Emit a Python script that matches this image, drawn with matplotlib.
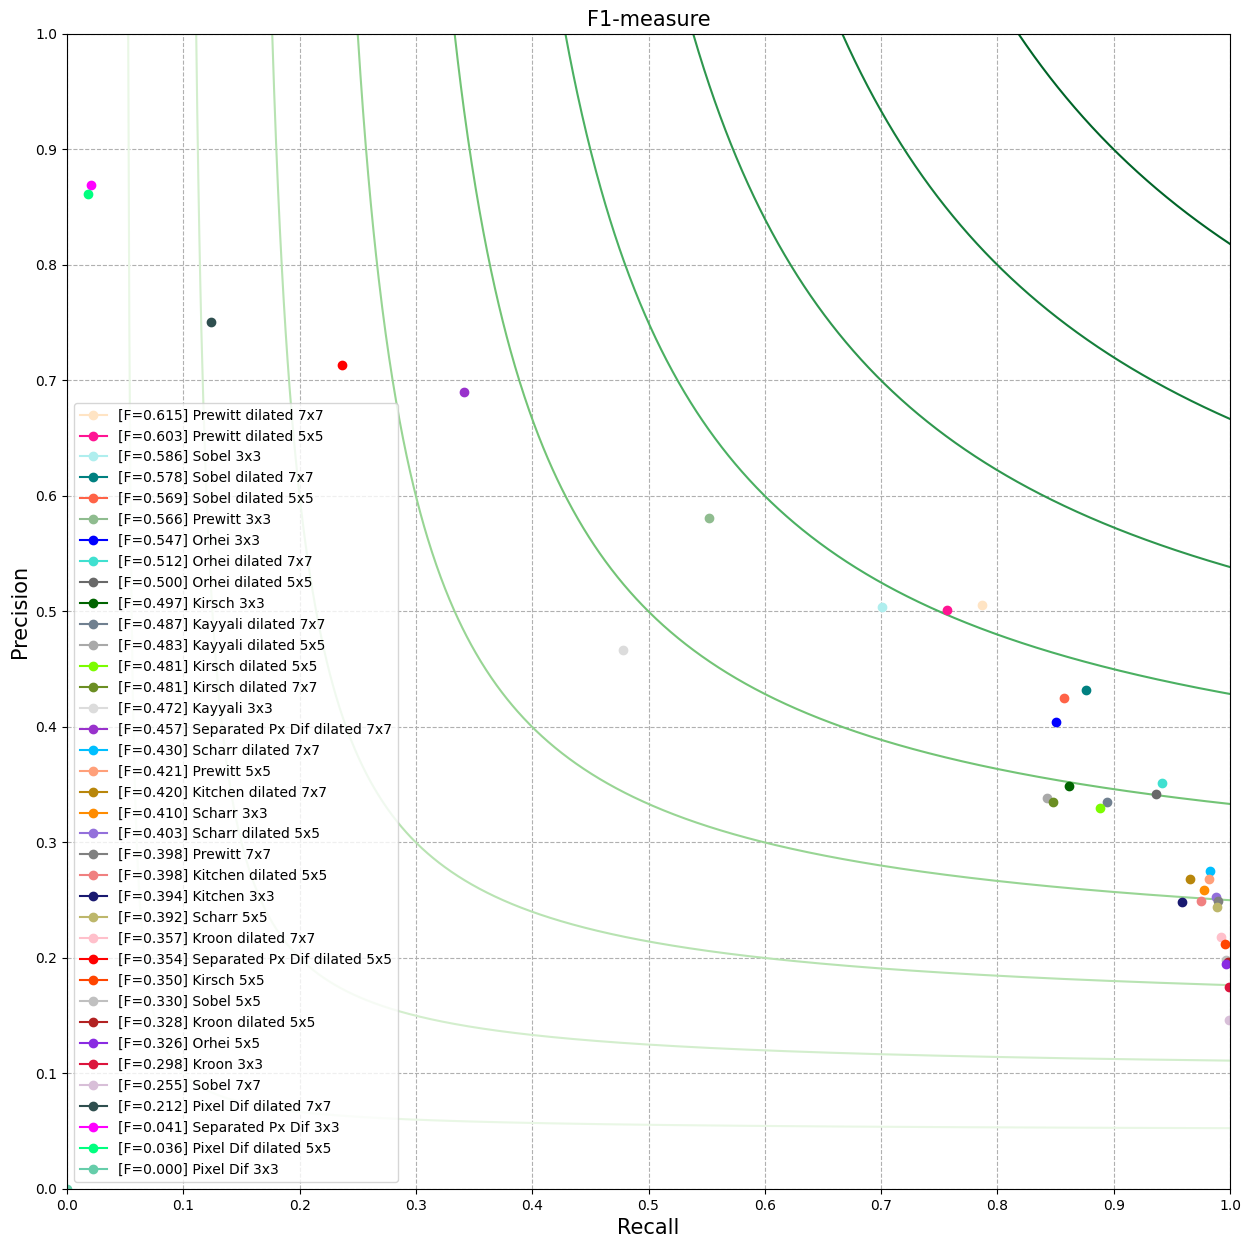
import numpy as np
import matplotlib
matplotlib.use("Agg")
import matplotlib.pyplot as plt

NAMES = [
    "Prewitt dilated 7x7", "Prewitt dilated 5x5", "Sobel 3x3", "Sobel dilated 7x7",
    "Sobel dilated 5x5", "Prewitt 3x3", "Orhei 3x3", "Orhei dilated 7x7",
    "Orhei dilated 5x5", "Kirsch 3x3", "Kayyali dilated 7x7", "Kayyali dilated 5x5",
    "Kirsch dilated 5x5", "Kirsch dilated 7x7", "Kayyali 3x3", "Separated Px Dif dilated 7x7",
    "Scharr dilated 7x7", "Prewitt 5x5", "Kitchen dilated 7x7", "Scharr 3x3",
    "Scharr dilated 5x5", "Prewitt 7x7", "Kitchen dilated 5x5", "Kitchen 3x3",
    "Scharr 5x5", "Kroon dilated 7x7", "Separated Px Dif dilated 5x5", "Kirsch 5x5",
    "Sobel 5x5", "Kroon dilated 5x5", "Orhei 5x5", "Kroon 3x3",
    "Sobel 7x7", "Pixel Dif dilated 7x7", "Separated Px Dif 3x3", "Pixel Dif dilated 5x5",
    "Pixel Dif 3x3",
]
F_SCORES = [
    0.615, 0.603, 0.586, 0.578, 0.569, 0.566, 0.547, 0.512, 0.500, 0.497,
    0.487, 0.483, 0.481, 0.481, 0.472, 0.457, 0.430, 0.421, 0.420, 0.410,
    0.403, 0.398, 0.398, 0.394, 0.392, 0.357, 0.354, 0.350, 0.330, 0.328,
    0.326, 0.298, 0.255, 0.212, 0.041, 0.036, 0.000,
]
RECALL = [
    0.787, 0.757, 0.701, 0.876, 0.857, 0.552, 0.850, 0.9415, 0.936, 0.8615,
    0.894, 0.8425, 0.888, 0.848, 0.478, 0.3414, 0.983, 0.982, 0.966, 0.978,
    0.988, 0.990, 0.975, 0.959, 0.989, 0.992, 0.2365, 0.996, 0.9966, 0.998,
    0.9966, 0.999, 0.9995, 0.1235, 0.021, 0.0184, 0.0,
]
PRECISION = [
    0.5056, 0.5013, 0.504, 0.432, 0.425, 0.581, 0.404, 0.3515, 0.342, 0.349,
    0.335, 0.3385, 0.330, 0.335, 0.4667, 0.690, 0.2753, 0.268, 0.268, 0.259,
    0.2531, 0.2494, 0.2496, 0.2482, 0.2442, 0.2179, 0.7134, 0.2121, 0.198, 0.1963,
    0.195, 0.1751, 0.1463, 0.7506, 0.869, 0.8615, 0.0,
]
COLORS = [
    "bisque", "deeppink", "paleturquoise", "teal", "tomato", "darkseagreen",
    "blue", "turquoise", "dimgray", "darkgreen", "slategray", "darkgray",
    "lawngreen", "olivedrab", "gainsboro", "darkorchid", "deepskyblue",
    "lightsalmon", "darkgoldenrod", "darkorange", "mediumpurple", "gray",
    "lightcoral", "midnightblue", "darkkhaki", "pink", "red", "orangered",
    "silver", "firebrick", "blueviolet", "crimson", "thistle", "darkslategray",
    "magenta", "springgreen", "mediumaquamarine",
]

ISO_F = [0.1, 0.2, 0.3, 0.4, 0.5, 0.6, 0.7, 0.8, 0.9]

fig, ax = plt.subplots(figsize=(12.5, 12.48), dpi=100)

# iso-F1 curves
for f in ISO_F:
    r = np.linspace(f / (2 - f), 1, 1000)
    p = f * r / (2 * r - f)
    ax.plot(r, p, color=plt.cm.Greens(f), linewidth=1.5)

for name, f, r, p, c in zip(NAMES, F_SCORES, RECALL, PRECISION, COLORS):
    ax.plot([r], [p], marker="o", color=c, label="[F=%.3f] %s" % (f, name))

ax.set_xlim(0, 1)
ax.set_ylim(0, 1)
ax.set_xticks(np.arange(0, 1.01, 0.1))
ax.set_yticks(np.arange(0, 1.01, 0.1))
ax.grid(True, linestyle="--")
ax.set_title("F1-measure", fontsize=15)
ax.set_xlabel("Recall", fontsize=15)
ax.set_ylabel("Precision", fontsize=15)
ax.legend(loc="lower left")

fig.subplots_adjust(left=0.0536, right=0.984, top=0.9728, bottom=0.0473)
fig.savefig("out.png")
